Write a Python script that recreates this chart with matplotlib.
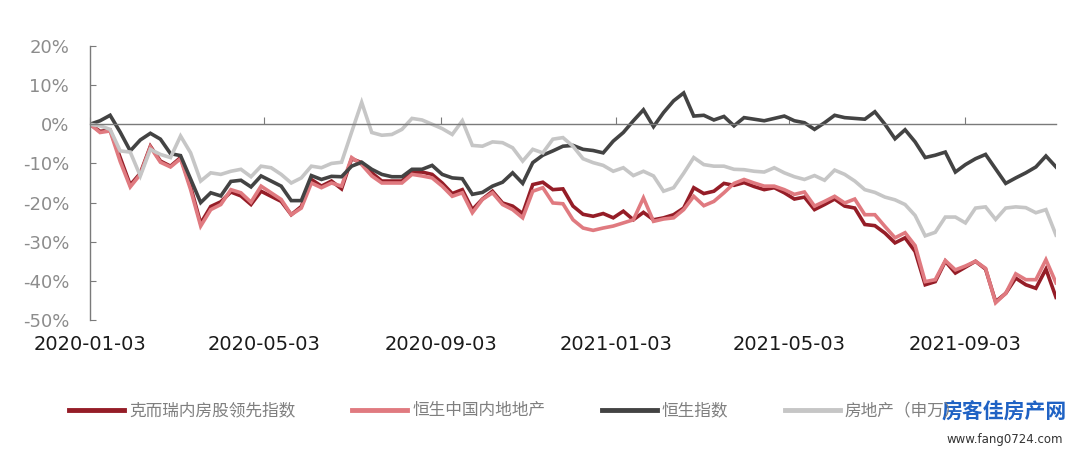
import matplotlib
matplotlib.use("Agg")
import matplotlib.pyplot as plt
import numpy as np
import pandas as pd

# weekly closes, cumulative change in % since 2020-01-03
dates = pd.date_range("2020-01-03", periods=97, freq="7D")

krr_idx = [0, -1.8, -1.5, -8.5, -15.5, -12.5, -5.6, -9.4, -10.7, -8.5,
           -16, -25.3, -21, -19.8, -17.3, -18.3, -20.5, -17.1, -18.4, -19.7,
           -23.1, -21, -14.1, -15.8, -14.5, -16.5, -8.8, -9.8, -12.4, -14.5,
           -14.5, -14.5, -12.2, -12.2, -12.8, -15, -17.7, -16.7, -21.8, -19.1,
           -17.1, -20.1, -20.9, -22.8, -15.4, -14.8, -16.7, -16.5, -20.9, -23,
           -23.5, -22.8, -23.9, -22.2, -24.4, -22.5, -24.4, -23.9, -23.1, -21.4,
           -16.2, -17.7, -17.1, -15.1, -15.6, -14.9, -15.9, -16.7, -16.2, -17.5,
           -19.1, -18.6, -21.8, -20.5, -19.1, -20.9, -21.4, -25.6, -25.9, -27.8,
           -30.3, -29, -32.5, -41, -40.2, -35, -38, -36.5, -35, -37,
           -45.3, -43.2, -39.3, -41, -41.9, -37, -44.2]

hs_mainland = [0, -2.1, -1.7, -9.5, -16, -12.8, -5.8, -9.7, -10.9, -8.8,
               -16.7, -26, -21.8, -20.5, -16.7, -17.5, -19.9, -15.8, -17.5, -19.2,
               -23.1, -21.4, -15, -16.2, -15, -15.8, -8.5, -10.3, -13.2, -15,
               -15, -15, -12.8, -13.2, -13.7, -15.8, -18.4, -17.5, -22.6, -19.2,
               -17.5, -20.5, -21.8, -23.9, -17.1, -16.2, -20.1, -20.3, -24.4, -26.5,
               -27.1, -26.5, -26, -25.2, -24.4, -18.8, -24.8, -24.2, -23.9, -21.8,
               -18.4, -20.8, -19.7, -17.5, -15.1, -14.1, -15, -15.8, -15.8, -16.7,
               -17.9, -17.3, -20.9, -19.7, -18.4, -20.1, -19.1, -23.1, -23.1, -26.1,
               -29, -27.7, -31, -40.2, -39.7, -34.8, -37.2, -36.2, -35, -36.8,
               -45.6, -43.2, -38.2, -39.7, -39.7, -34.6, -40.5]

hsi = [0, 0.9, 2.3, -2, -6.8, -4.0, -2.3, -3.8, -7.5, -8.0,
       -14, -20, -17.5, -18.3, -14.6, -14.3, -16, -13.2, -14.5, -15.8,
       -19.5, -19.5, -13.1, -14.1, -13.3, -13.4, -10.7, -9.7, -11.5, -12.8,
       -13.4, -13.4, -11.5, -11.5, -10.5, -12.8, -13.7, -13.9, -17.9, -17.4,
       -15.8, -14.8, -12.4, -15.1, -9.8, -7.9, -6.8, -5.6, -5.4, -6.4,
       -6.7, -7.3, -4.3, -2.1, 0.9, 3.7, -0.6, 3.0, 6.0, 8.0,
       2.1, 2.3, 1.1, 2.0, -0.4, 1.7, 1.3, 0.9, 1.5, 2.1,
       0.9, 0.4, -1.3, 0.4, 2.3, 1.7, 1.5, 1.3, 3.2, 0,
       -3.7, -1.4, -4.5, -8.5, -7.9, -7.1, -12.2, -10.3, -8.8, -7.7,
       -11.4, -15.1, -13.7, -12.4, -10.9, -8.1, -10.9]

sw_property = [0, -0.4, -1.3, -6.8, -7.1, -13.2, -6.4, -7.7, -8.5, -3,
               -7.3, -14.5, -12.4, -12.8, -12, -11.5, -13.4, -10.7, -11.1, -12.8,
               -15, -13.7, -10.7, -11.1, -10, -9.7, -2, 5.6, -2.1, -2.8,
               -2.6, -1.3, 1.5, 1.1, 0, -1.1, -2.6, 0.9, -5.4, -5.6,
               -4.5, -4.7, -6, -9.4, -6.4, -7.3, -3.8, -3.4, -5.6, -8.8,
               -9.8, -10.5, -12, -11.1, -13.1, -12, -13.2, -17.1, -16.2, -12.5,
               -8.5, -10.3, -10.7, -10.7, -11.5, -11.6, -12, -12.2, -11.1, -12.4,
               -13.4, -14.1, -13.1, -14.3, -11.7, -12.8, -14.5, -16.7, -17.4, -18.6,
               -19.3, -20.5, -23.3, -28.5, -27.6, -23.7, -23.7, -25.2, -21.4, -21.1,
               -24.3, -21.4, -21.1, -21.3, -22.6, -21.8, -28.3]

labels = ["克而瑞内房股领先指数", "恒生中国内地地产", "恒生指数", "房地产（申万）"]
colors = ["#951d27", "#e07a80", "#434343", "#c6c6c6"]
tick_dates = ["2020-01-03", "2020-05-03", "2020-09-03", "2021-01-03", "2021-05-03", "2021-09-03"]
yticks = [20, 10, 0, -10, -20, -30, -40, -50]

cjk = ["Noto Sans CJK SC", "DejaVu Sans"]

fig = plt.figure(figsize=(10.8, 4.54), dpi=100)
ax = fig.add_axes([90/1080, 134/454, 966/1080, 274/454])

for s, lab, c in zip([krr_idx, hs_mainland, hsi, sw_property], labels, colors):
    ax.plot(dates, s, color=c, lw=2.6, label=lab, solid_joinstyle="miter")

ax.set_xlim(dates[0], dates[-1])
ax.set_ylim(-50, 20)

for sp in ["top", "right"]:
    ax.spines[sp].set_visible(False)
ax.spines["bottom"].set_position(("data", 0))
for sp in ["bottom", "left"]:
    ax.spines[sp].set_color("#7a7a7a")
    ax.spines[sp].set_linewidth(1.0)

tds = pd.to_datetime(tick_dates)
ax.set_xticks(tds)
ax.tick_params(axis="x", direction="in", length=5, color="#7a7a7a", labelbottom=False)
# date labels sit under the plot, ticks stay on the zero line
for d in tds:
    ax.text(d, -0.091, d.strftime("%Y-%m-%d"), transform=ax.get_xaxis_transform(),
            ha="center", va="center", fontsize=14, color="#1a1a1a")

ax.set_yticks(yticks)
ax.set_yticklabels([f"{v}%" for v in yticks])
ax.tick_params(axis="y", direction="in", length=4, color="#7a7a7a", pad=15,
               labelsize=13, labelcolor="#8c8c8c")

leg = fig.legend(loc="center left", bbox_to_anchor=(0.064, 0.095), ncol=4, frameon=False,
                 prop={"family": cjk, "size": 12}, handlelength=3.3, handletextpad=0.3,
                 columnspacing=3.4, borderpad=0, borderaxespad=0)
for t in leg.get_texts():
    t.set_color("#7f7f7f")
for h in leg.legend_handles:
    h.set_linewidth(3.5)

# site watermark at the bottom right
fig.text(0.93, 0.093, "房客佳房产网", family=cjk, fontsize=15, fontweight="bold",
         color="#1f62c4", ha="center", va="center")
fig.text(0.93, 0.033, "www.fang0724.com", fontsize=8.5, color="#333333",
         ha="center", va="center")

fig.savefig("out.png", dpi=100)
